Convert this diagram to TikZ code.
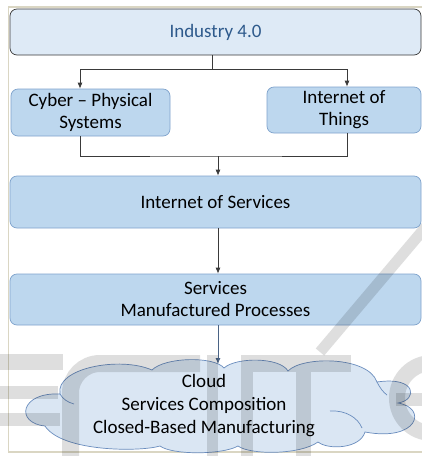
\documentclass[tikz,border=0pt]{standalone}
\usepackage{fontspec}
\setmainfont{Carlito}
\usetikzlibrary{arrows.meta}

\definecolor{paleblue}{HTML}{DEEAF6}
\definecolor{boxblue}{HTML}{BDD7EE}
\definecolor{boxedge}{HTML}{7FA3CC}
\definecolor{cloudfill}{HTML}{DAE6F3}
\definecolor{cloudedge}{HTML}{6A8DBE}
\definecolor{titleblue}{HTML}{2E5A8C}
\definecolor{linegray}{HTML}{3A3A3A}
\definecolor{framebeige}{HTML}{DAD6C3}

\tikzset{
  topbox/.style={draw=linegray, fill=paleblue, rounded corners=7pt, line width=0.7pt,
    text=titleblue, align=center, font=\fontsize{19}{22}\selectfont},
  bluebox/.style={draw=boxedge, fill=boxblue, rounded corners=7pt, line width=0.7pt,
    align=center, font=\fontsize{19}{22}\selectfont},
  cloudline/.style={draw=cloudedge, line width=0.7pt},
  conn/.style={draw=linegray, line width=0.8pt},
  arr/.style={conn, -{Latex[length=6pt,width=5pt]}},
  wmfill/.style={fill=black, opacity=0.13, draw=none},
  wmline/.style={draw=black, opacity=0.13},
}

\begin{document}
\begin{tikzpicture}[x=1pt,y=-1pt]
\useasboundingbox (0,0) rectangle (422,456);
\fill[white] (0,0) rectangle (422,456);

% page frame
\draw[framebeige, line width=1.8pt] (425,7) -- (8.5,7) -- (8.5,452) -- (425,452);

% boxes
\node[topbox, minimum width=411pt, minimum height=46pt] (ind) at (215.5,32) {Industry 4.0};
\node[bluebox, minimum width=159pt, minimum height=47pt] (cps) at (90.5,112.5)
  {Cyber – Physical\\Systems};
\node[bluebox, minimum width=154pt, minimum height=46pt] (iot) at (344,110)
  {Internet of\\Things};
\node[bluebox, minimum width=411pt, minimum height=52pt] (ios) at (215.5,202)
  {Internet of Services};
\node[bluebox, minimum width=411pt, minimum height=51pt] (smp) at (215.5,299.5)
  {Services\\Manufactured Processes};

% cloud outline, puff by puff
\path[cloudline, fill=cloudfill]
  (45,426) .. controls (15,423) and (20,392) .. (60,394)
  .. controls (55,368) and (120,356) .. (152,370)
  .. controls (165,357) and (214,356) .. (224,368)
  .. controls (236,357) and (280,357) .. (288,371)
  .. controls (302,356) and (368,356) .. (377,382)
  .. controls (417,376) and (418,400) .. (398,403)
  .. controls (428,408) and (418,442) .. (365,432)
  .. controls (360,449) and (328,450) .. (318,442)
  .. controls (300,455) and (250,455) .. (238,446)
  .. controls (222,455) and (172,455) .. (160,446)
  .. controls (140,452) and (62,452) .. (45,426) -- cycle;
\draw[cloudline] (330,411) .. controls (346,410) and (358,418) .. (362,428);
\draw[cloudline] (60,394) .. controls (63,399) and (67,402) .. (74,404);
\draw[cloudline] (377,382) .. controls (380,388) and (383,392) .. (387,395);
\coordinate (cloudtop) at (218,364);
\node[align=center, font=\fontsize{19}{23}\selectfont] (cldtext) at (204,406)
  {Cloud\\Services Composition\\Closed-Based Manufacturing};

% connectors
\coordinate (split) at (212,69);
\coordinate (merge) at (218,156);
\draw[conn] (ind.south -| split) -- (split);
\draw[arr] (split) -| ([xshift=-10.5pt]cps.north);
\draw[arr] (split) -| ([xshift=3pt]iot.north);
\draw[conn] ([xshift=-10.5pt]cps.south) |- (merge) -| ([xshift=3pt]iot.south);
\draw[arr] (merge) -- (merge |- ios.north);
\draw[arr] (ios.south -| merge) -- (smp.north -| merge);
\draw[arr, draw=cloudedge!70!black] (smp.south -| merge) -- (cloudtop);

% faint lettering in the background
\fill[wmfill] (0,354) rectangle (63,370);
\fill[wmfill] (0,386) rectangle (58,399);
\fill[wmfill] (0,413) rectangle (60,426);
\draw[wmline, line width=17pt] (200,363.5) -- (100,363.5) arc[start angle=-90, end angle=-180, radius=29.5] -- (70.5,470);
\fill[wmfill] (207,355) rectangle (218,460);
\fill[wmfill] (241,355) rectangle (351,372);
\fill[wmfill] (241,372) rectangle (253,460);
\fill[wmfill] (296,372) rectangle (311,460);
\draw[wmline, line width=11pt] (430,222) -- (320,352);
\draw[wmline, line width=16pt] (432,363) arc[start angle=-90, end angle=-270, radius=35];
\fill[wmfill] (396,393) rectangle (422,406);
\end{tikzpicture}
\end{document}
